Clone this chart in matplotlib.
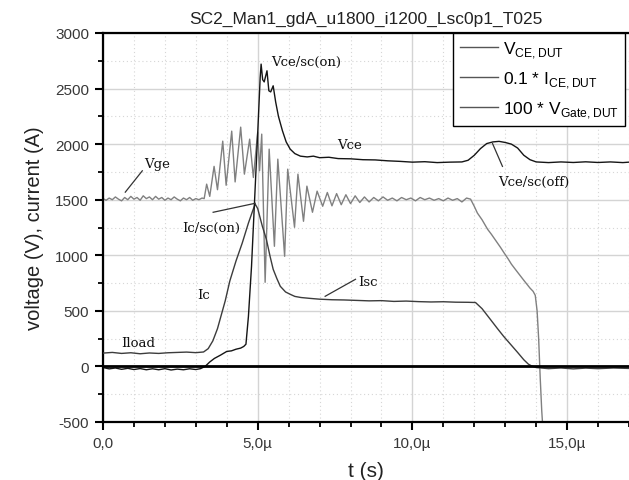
import matplotlib
matplotlib.use("Agg")
import matplotlib.pyplot as plt
from matplotlib.ticker import MultipleLocator, FixedLocator, FixedFormatter

# ---------------- data ----------------
title = "SC2_Man1_gdA_u1800_i1200_Lsc0p1_T025"
x_label = "t (s)"
y_label = "voltage (V), current (A)"
series_labels = [r"V$_{\mathregular{CE,DUT}}$",
                 r"0.1 * I$_{\mathregular{CE,DUT}}$",
                 r"100 * V$_{\mathregular{Gate,DUT}}$"]
x_ticks = [0, 5, 10, 15]
x_ticklabels = ["0,0", "5,0µ", "10,0µ", "15,0µ"]
y_ticks = [-500, 0, 500, 1000, 1500, 2000, 2500, 3000]

# V_CE (t in µs, value)
vce_points = [
    (0.0, -10), (0.2, -22), (0.4, -14), (0.6, -26), (0.8, -17), (1.0, -28), (1.2, -19),
    (1.4, -30), (1.6, -21), (1.8, -30), (2.0, -20), (2.2, -32), (2.4, -24), (2.6, -30),
    (2.8, -21), (3.0, -28), (3.15, -20), (3.3, 0), (3.45, 40), (3.6, 72), (3.8, 102),
    (4.0, 135), (4.15, 140), (4.3, 155), (4.45, 165), (4.55, 180), (4.62, 200),
    (4.7, 450), (4.8, 900), (4.9, 1500), (5.0, 2100), (5.08, 2600), (5.11, 2720),
    (5.16, 2580), (5.21, 2560), (5.3, 2660), (5.36, 2480), (5.42, 2470), (5.5, 2525),
    (5.58, 2380), (5.67, 2250), (5.8, 2120), (5.92, 2020), (6.05, 1955), (6.2, 1915),
    (6.38, 1892), (6.6, 1885), (6.8, 1892), (7.0, 1878), (7.3, 1882), (7.6, 1870),
    (8.0, 1868), (8.4, 1860), (8.8, 1858), (9.2, 1850), (9.6, 1845), (10.0, 1838),
    (10.4, 1842), (10.8, 1834), (11.2, 1838), (11.6, 1840), (11.8, 1855), (12.0, 1900),
    (12.2, 1960), (12.4, 2005), (12.6, 2020), (12.8, 2025), (13.0, 2015), (13.2, 2000),
    (13.4, 1965), (13.6, 1900), (13.8, 1860), (14.0, 1840), (14.4, 1834), (14.8, 1840),
    (15.2, 1835), (15.6, 1841), (16.0, 1835), (16.4, 1840), (16.8, 1834), (17.0, 1838),
]

# 0.1 * I_CE
ice_points = [
    (0.0, 120), (0.3, 126), (0.6, 117), (0.9, 123), (1.2, 114), (1.5, 121), (1.8, 117),
    (2.1, 123), (2.4, 126), (2.7, 129), (3.0, 124), (3.25, 130), (3.4, 160), (3.55, 230),
    (3.7, 340), (3.85, 490), (3.95, 590), (4.1, 770), (4.3, 950), (4.5, 1110),
    (4.7, 1290), (4.85, 1410), (4.92, 1460), (5.0, 1420), (5.15, 1261), (5.28, 1144),
    (5.4, 990), (5.5, 874), (5.62, 790), (5.73, 721), (5.9, 670), (6.05, 649),
    (6.2, 630), (6.4, 620), (6.7, 612), (7.0, 605), (7.4, 600), (7.8, 598), (8.2, 594),
    (8.6, 590), (9.0, 592), (9.4, 585), (9.8, 588), (10.2, 583), (10.6, 580),
    (11.0, 582), (11.4, 578), (11.8, 577), (12.04, 575), (12.25, 520), (12.52, 423),
    (12.75, 340), (12.95, 270), (13.2, 190), (13.4, 126), (13.6, 60), (13.75, 20),
    (13.85, 5), (14.0, -10), (14.4, -20), (14.8, -14), (15.2, -22), (15.6, -15),
    (16.0, -20), (16.5, -14), (17.0, -18),
]

# 100 * V_Gate
vge_points = [
    (0.0, 1510), (0.1, 1495), (0.2, 1515), (0.3, 1500), (0.4, 1525), (0.5, 1505),
    (0.6, 1490), (0.7, 1520), (0.8, 1500), (0.9, 1530), (1.0, 1505), (1.1, 1520),
    (1.2, 1495), (1.3, 1535), (1.4, 1510), (1.5, 1525), (1.6, 1500), (1.7, 1530),
    (1.8, 1505), (1.9, 1520), (2.0, 1495), (2.1, 1515), (2.2, 1500), (2.3, 1525),
    (2.4, 1505), (2.5, 1490), (2.6, 1515), (2.7, 1500), (2.8, 1520), (2.9, 1495),
    (3.0, 1510), (3.1, 1500), (3.2, 1515), (3.27, 1510), (3.35, 1640), (3.45, 1530),
    (3.59, 1800), (3.70, 1590), (3.87, 2027), (3.98, 1630), (4.16, 2117), (4.27, 1660),
    (4.45, 2153), (4.57, 1730), (4.74, 2045), (4.86, 1700), (5.0, 2108), (5.06, 1760),
    (5.13, 2090), (5.24, 757), (5.37, 1955), (5.54, 1081), (5.65, 1865), (5.87, 991),
    (5.97, 1775), (6.19, 1252), (6.3, 1730), (6.48, 1306), (6.59, 1622), (6.77, 1387),
    (6.92, 1577), (7.1, 1441), (7.25, 1565), (7.4, 1445), (7.55, 1555), (7.7, 1455),
    (7.85, 1545), (8.0, 1465), (8.15, 1535), (8.3, 1475), (8.45, 1525), (8.6, 1480),
    (8.75, 1520), (8.9, 1490), (9.05, 1525), (9.2, 1495), (9.35, 1515), (9.5, 1490),
    (9.65, 1520), (9.8, 1500), (9.95, 1515), (10.1, 1490), (10.25, 1520), (10.4, 1500),
    (10.55, 1515), (10.7, 1495), (10.85, 1510), (11.0, 1490), (11.15, 1515),
    (11.3, 1495), (11.45, 1510), (11.6, 1480), (11.75, 1515), (11.88, 1505),
    (12.0, 1440), (12.1, 1380), (12.25, 1320), (12.43, 1234), (12.55, 1190),
    (12.7, 1130), (12.85, 1070), (12.95, 1027), (13.1, 965), (13.2, 920), (13.35, 865),
    (13.5, 811), (13.6, 775), (13.7, 740), (13.8, 705), (13.9, 676), (13.97, 640),
    (14.03, 500), (14.08, 250), (14.13, -100), (14.18, -400), (14.25, -700),
]

vce_t, vce_v = zip(*vce_points)
ice_t, ice_v = zip(*ice_points)
vge_t, vge_v = zip(*vge_points)

# ---------------- style ----------------
plt.rcParams["font.family"] = ["Liberation Sans", "DejaVu Sans"]
plt.rcParams["mathtext.fontset"] = "custom"
plt.rcParams["mathtext.rm"] = "Liberation Sans"
plt.rcParams["axes.unicode_minus"] = False

fig = plt.figure(figsize=(6.29, 4.81), dpi=100)
ax = fig.add_axes([103 / 629, 1 - 423 / 481, 1 - 103 / 629, (423 - 34) / 481])

l1, = ax.plot(vce_t, vce_v, color="#151515", lw=1.0, zorder=4)
l2, = ax.plot(ice_t, ice_v, color="#3c3c3c", lw=1.0, zorder=3)
l3, = ax.plot(vge_t, vge_v, color="#808080", lw=1.0, zorder=2)

ax.axhline(0, color="black", lw=2.0, zorder=5)

ax.set_xlim(0, 17.0)
ax.set_ylim(-500, 3000)

ax.xaxis.set_major_locator(FixedLocator(x_ticks))
ax.xaxis.set_major_formatter(FixedFormatter(x_ticklabels))
ax.xaxis.set_minor_locator(MultipleLocator(1))
ax.yaxis.set_major_locator(FixedLocator(y_ticks))
ax.yaxis.set_minor_locator(MultipleLocator(250))

ax.grid(which="major", color="#d4d4d4", lw=1.0, ls="-", zorder=0)
ax.grid(which="minor", color="#d6d6d6", lw=0.8, ls=(0, (1, 2.5)), zorder=0)
ax.set_axisbelow(True)

for s in ["left", "bottom", "top"]:
    ax.spines[s].set_linewidth(1.6)
    ax.spines[s].set_color("black")
ax.spines["right"].set_visible(False)

ax.tick_params(which="major", direction="out", length=6, width=1.5,
               labelsize=11, labelcolor="#383838", pad=4)
ax.tick_params(which="minor", direction="out", length=3.5, width=1.3)
ax.tick_params(top=False, right=False)

ax.set_title(title, fontsize=12.5, color="#222222", pad=7)
ax.set_xlabel(x_label, fontsize=15, color="#222222", labelpad=8)
ax.set_ylabel(y_label, fontsize=14.5, color="#222222", labelpad=8)

leg = ax.legend([l1, l2, l3], series_labels, loc="upper right",
                bbox_to_anchor=(522 / 526, 1.0), borderaxespad=0,
                fontsize=12.5, frameon=True, fancybox=False, framealpha=1,
                edgecolor="black", handlelength=2.2, handletextpad=0.3,
                labelspacing=0.55, borderpad=0.35)
leg.get_frame().set_linewidth(1.0)
for h in leg.get_lines():
    h.set_color("#555555")
    h.set_linewidth(1.0)

# ---------------- annotations ----------------
afont = dict(family="DejaVu Serif", fontsize=9.5, color="#111111")
ax.text(1.32, 1830, "Vge", ha="left", va="center", **afont)
ax.plot([0.72, 1.27], [1568, 1760], color="#333333", lw=0.9, zorder=6)

ax.text(5.42, 2740, "Vce/sc(on)", ha="left", va="center", **afont)
ax.text(7.57, 2000, "Vce", ha="left", va="center", **afont)

ax.text(12.78, 1660, "Vce/sc(off)", ha="left", va="center", **afont)
ax.plot([12.59, 12.91], [2005, 1800], color="#333333", lw=0.9, zorder=6)

ax.text(2.56, 1252, "Ic/sc(on)", ha="left", va="center", **afont)
ax.plot([3.56, 4.92], [1387, 1468], color="#333333", lw=0.9, zorder=6)

ax.text(3.05, 650, "Ic", ha="left", va="center", **afont)

ax.text(8.25, 760, "Isc", ha="left", va="center", **afont)
ax.plot([7.18, 8.16], [631, 784], color="#333333", lw=0.9, zorder=6)

ax.text(0.6, 216, "Iload", ha="left", va="center", **afont)

fig.savefig("out.png", dpi=100)
